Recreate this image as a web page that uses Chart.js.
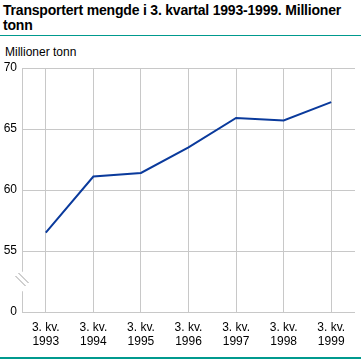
<!DOCTYPE html>
<html><head><meta charset="utf-8">
<script src="https://cdn.jsdelivr.net/npm/chart.js@4"></script>
<style>
html,body{margin:0;padding:0;background:#fff;width:361px;height:361px;overflow:hidden;position:relative;font-family:"Liberation Sans",Arial,sans-serif;}
#title{position:absolute;left:3px;top:3px;width:356px;font-weight:bold;font-size:14px;line-height:15px;color:#000;letter-spacing:-0.2px;}
#topline{position:absolute;left:0;top:35px;width:361px;height:1px;background:#009a8e;}
#botline{position:absolute;left:0;top:357px;width:361px;height:2px;background:#009a8e;}
#unit{position:absolute;left:5px;top:45px;font-size:12px;color:#000;}
#wrap{position:absolute;left:0;top:40px;width:361px;height:316px;}
</style></head>
<body>
<div id="title">Transportert mengde i 3. kvartal 1993-1999. Millioner tonn</div>
<div id="topline"></div>
<div id="unit">Millioner tonn</div>
<div id="wrap"><canvas id="c" width="361" height="316"></canvas></div>
<div id="botline"></div>
<script>
const categories = [["3. kv.","1993"],["3. kv.","1994"],["3. kv.","1995"],["3. kv.","1996"],["3. kv.","1997"],["3. kv.","1998"],["3. kv.","1999"]];
const values = [56.5, 61.1, 61.4, 63.5, 65.9, 65.7, 67.2];
const yTickValues = [50, 55, 60, 65, 70];
const yTickLabels = ["0", "55", "60", "65", "70"];

const breakPlugin = {
  id: 'breakPlugin',
  afterDraw(chart) {
    const y = chart.scales.y;
    const ctx = chart.ctx;
    const x0 = chart.chartArea.left;
    const top = y.getPixelForValue(51.7);
    const bot = y.getPixelForValue(53.3);
    ctx.save();
    ctx.fillStyle = '#fff';
    ctx.fillRect(x0 - 2, bot, 4, top - bot);
    ctx.strokeStyle = '#a0a0a0';
    ctx.lineWidth = 1;
    const cy = (top + bot) / 2 - 2;
    for (const d of [-1.5, 1.5]) {
      ctx.beginPath();
      ctx.moveTo(x0 - 5 + d, cy - 5 - d);
      ctx.lineTo(x0 + 5 + d, cy + 5 - d);
      ctx.stroke();
    }
    ctx.restore();
  }
};

new Chart(document.getElementById('c'), {
  type: 'line',
  data: { labels: categories, datasets: [{ data: values, borderColor: '#0a3a9c', borderWidth: 2, pointRadius: 0, tension: 0, fill: false }] },
  options: {
    responsive: false, animation: false,
    layout: { padding: { top: 28, right: 6, left: 0, bottom: 0 } },
    plugins: { legend: { display: false }, tooltip: { enabled: false } },
    scales: {
      x: {
        offset: true,
        grid: { offset: false, color: '#c8c8c8', lineWidth: 1, drawTicks: false },
        border: { display: false },
        ticks: { color: '#000', font: { family: '"Liberation Sans", Arial, sans-serif', size: 12, lineHeight: 1.17 }, padding: 9, maxRotation: 0, autoSkip: false },
        afterFit(s) { s.height = 44; }
      },
      y: {
        min: 50, max: 70,
        afterBuildTicks(s) { s.ticks = yTickValues.map(v => ({ value: v })); },
        grid: { color: '#c8c8c8', lineWidth: 1, drawTicks: false },
        border: { display: true, color: '#c8c8c8', width: 1 },
        ticks: { color: '#000', font: { family: '"Liberation Sans", Arial, sans-serif', size: 12 }, padding: 5,
          callback(v) { const i = yTickValues.indexOf(v); return i >= 0 ? yTickLabels[i] : ''; } },
        afterFit(s) { s.width = 22; }
      }
    }
  },
  plugins: [breakPlugin]
});
</script>
</body></html>
